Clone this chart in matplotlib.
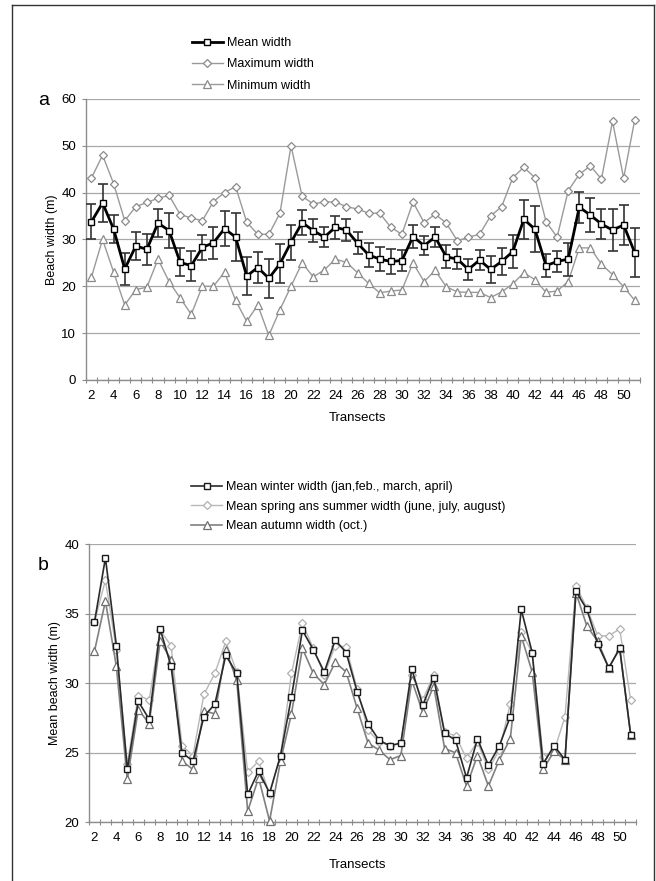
import numpy as np
import matplotlib
matplotlib.use('Agg')
import matplotlib.pyplot as plt
from matplotlib.lines import Line2D

plt.rcParams['font.family'] = ['Liberation Sans', 'DejaVu Sans']

# transect numbers 2..51
transects = list(range(2, 52))
tick_labels = list(range(2, 51, 2))

# panel a: beach width (m)
mean_w = [33.8, 37.8, 32.2, 23.7, 28.6, 27.9, 33.5, 31.9, 25.1, 24.4,
          28.3, 29.3, 32.3, 30.5, 22.2, 24.0, 21.7, 24.8, 29.4, 33.6,
          31.9, 30.5, 32.6, 32.0, 29.2, 26.7, 25.8, 25.3, 25.5, 30.6,
          28.7, 30.5, 26.3, 25.8, 23.6, 25.6, 23.6, 25.3, 27.4, 34.3,
          32.2, 24.4, 25.3, 25.8, 36.9, 35.2, 33.3, 32.0, 33.1, 27.2]
mean_err = [3.8, 4.1, 3.0, 3.4, 2.9, 3.3, 3.0, 3.8, 3.0, 3.2,
            2.6, 3.4, 3.7, 5.1, 4.0, 3.3, 4.2, 4.2, 3.7, 2.6,
            2.5, 2.1, 2.5, 2.4, 2.4, 2.5, 2.6, 2.6, 2.3, 2.4,
            2.1, 2.2, 2.5, 2.1, 2.3, 2.1, 2.8, 2.8, 3.6, 4.2,
            4.9, 2.5, 2.2, 3.5, 3.3, 3.7, 3.2, 4.4, 4.2, 5.3]
max_w = [43.1, 48.0, 41.9, 34.0, 37.0, 37.9, 38.8, 39.4, 35.3, 34.6,
         34.0, 38.1, 40.0, 41.3, 33.7, 31.1, 31.1, 35.6, 50.0, 39.2,
         37.6, 38.0, 38.0, 37.0, 36.5, 35.6, 35.6, 32.6, 31.1, 38.0,
         33.6, 35.4, 33.5, 29.7, 30.5, 31.1, 35.0, 37.0, 43.2, 45.4,
         43.2, 33.8, 30.5, 40.4, 43.9, 45.7, 42.9, 55.2, 43.1, 55.5]
min_w = [22.0, 30.0, 23.0, 16.0, 19.3, 19.8, 25.8, 21.0, 17.5, 14.0,
         20.0, 20.0, 23.0, 17.0, 12.5, 16.0, 9.5, 15.0, 20.0, 25.0,
         22.0, 23.5, 25.8, 25.1, 22.9, 20.6, 18.6, 19.0, 19.2, 25.0,
         21.0, 23.4, 19.9, 18.8, 18.7, 18.7, 17.6, 18.8, 20.5, 22.9,
         21.4, 18.7, 19.0, 21.0, 28.2, 28.2, 24.7, 22.5, 19.9, 17.0]

# panel b: seasonal mean beach width (m)
winter = [34.4, 39.0, 32.7, 23.8, 28.7, 27.4, 33.9, 31.2, 25.0, 24.4,
          27.6, 28.5, 32.0, 30.7, 22.0, 23.7, 22.1, 24.8, 29.0, 33.8,
          32.4, 30.8, 33.1, 32.2, 29.4, 27.1, 25.9, 25.5, 25.7, 31.0,
          28.4, 30.4, 26.4, 25.9, 23.2, 26.0, 24.1, 25.5, 27.6, 35.3,
          32.2, 24.2, 25.5, 24.5, 36.6, 35.3, 32.8, 31.1, 32.5, 26.3]
spring = [34.4, 37.4, 32.4, 24.2, 29.1, 28.8, 33.8, 32.7, 25.5, 24.8,
          29.2, 30.7, 33.0, 30.8, 23.6, 24.4, 22.0, 24.8, 30.7, 34.3,
          32.5, 30.6, 32.7, 32.6, 29.6, 26.6, 25.8, 25.5, 25.7, 30.6,
          28.8, 30.6, 26.5, 26.2, 24.6, 25.8, 23.8, 25.2, 28.5, 33.7,
          32.2, 24.7, 25.1, 27.6, 37.0, 35.4, 33.4, 33.4, 33.9, 28.8]
autumn = [32.3, 35.9, 31.2, 23.1, 28.1, 27.1, 33.0, 31.7, 24.4, 23.8,
          28.0, 27.8, 32.4, 30.2, 20.8, 23.2, 20.1, 24.4, 27.8, 32.5,
          30.7, 29.9, 31.5, 30.8, 28.2, 25.7, 25.2, 24.5, 24.8, 30.2,
          27.9, 29.8, 25.3, 25.0, 22.6, 24.8, 22.6, 24.5, 26.0, 33.4,
          30.8, 23.8, 25.1, 24.5, 36.5, 34.1, 33.0, 31.1, 32.5, 26.3]

GRID = '#a8a8a8'
SPINE = '#8c8c8c'


def style_axes(ax, ymin, ymax, ystep):
    ax.set_xlim(1.5, 51.5)
    ax.set_ylim(ymin, ymax)
    ax.set_yticks(np.arange(ymin, ymax + 0.1, ystep))
    ax.set_xticks(tick_labels)
    ax.set_xticks(np.arange(1.5, 52, 1), minor=True)
    ax.tick_params(axis='x', which='major', length=0, pad=7, labelsize=9.5)
    ax.tick_params(axis='x', which='minor', length=5, direction='inout',
                   color=SPINE, width=0.8)
    ax.tick_params(axis='y', length=3, color=SPINE, pad=4, labelsize=9.5)
    ax.yaxis.grid(True, color=GRID, lw=0.9)
    ax.set_axisbelow(True)
    for s in ['top', 'right']:
        ax.spines[s].set_visible(False)
    for s in ['left', 'bottom']:
        ax.spines[s].set_color(SPINE)
        ax.spines[s].set_linewidth(1.0)


fig = plt.figure(figsize=(6.56, 8.81), dpi=100)

# ---- panel a ----
ax1 = fig.add_axes([0.131, 0.5687, 0.845, 0.319])
style_axes(ax1, 0, 60, 10)
l_max, = ax1.plot(transects, max_w, color='#9a9a9a', lw=1.0, marker='D',
                  ms=4.2, mfc='white', mec='#8a8a8a', mew=0.9, zorder=3)
l_min, = ax1.plot(transects, min_w, color='#9a9a9a', lw=1.0, marker='^',
                  ms=5.5, mfc='white', mec='#8a8a8a', mew=0.9, zorder=3)
ax1.errorbar(transects, mean_w, yerr=mean_err, fmt='none', ecolor='#333333',
             elinewidth=1.2, capsize=3.8, capthick=1.2, zorder=4)
l_mean, = ax1.plot(transects, mean_w, color='black', lw=2.0, marker='s',
                   ms=5, mfc='white', mec='black', mew=1.0, zorder=5)
ax1.set_ylabel('Beach width (m)', fontsize=9)
ax1.yaxis.set_label_coords(-0.05, 0.5)
ax1.set_xlabel('Transects', fontsize=9.5)
ax1.xaxis.set_label_coords(0.49, -0.115)

fig.legend([l_mean, l_max, l_min], ['Mean width', 'Maximum width', 'Minimum width'],
           loc='upper left', bbox_to_anchor=(0.292, 0.958), frameon=False,
           fontsize=9, handlelength=2.5, handletextpad=0.3, labelspacing=0.75,
           borderpad=0, borderaxespad=0)
fig.text(0.058, 0.886, 'a', fontsize=14, va='center', ha='left')

# ---- panel b ----
ax2 = fig.add_axes([0.1357, 0.0666, 0.834, 0.3159])
style_axes(ax2, 20, 40, 5)
l_spr, = ax2.plot(transects, spring, color='#b8b8b8', lw=1.0, marker='D',
                  ms=4.2, mfc='white', mec='#b0b0b0', mew=0.9, zorder=3,
                  clip_on=False)
l_aut, = ax2.plot(transects, autumn, color='#808080', lw=1.2, marker='^',
                  ms=5.5, mfc='white', mec='#707070', mew=0.9, zorder=4,
                  clip_on=False)
l_win, = ax2.plot(transects, winter, color='#2a2a2a', lw=1.2, marker='s',
                  ms=4.8, mfc='white', mec='#1a1a1a', mew=1.0, zorder=5,
                  clip_on=False)
ax2.set_ylabel('Mean beach width (m)', fontsize=9)
ax2.yaxis.set_label_coords(-0.051, 0.5)
ax2.set_xlabel('Transects', fontsize=9.5)
ax2.xaxis.set_label_coords(0.49, -0.13)

fig.legend([l_win, l_spr, l_aut],
           ['Mean winter width (jan,feb., march, april)',
            'Mean spring ans summer width (june, july, august)',
            'Mean autumn width (oct.)'],
           loc='upper left', bbox_to_anchor=(0.291, 0.454), frameon=False,
           fontsize=9, handlelength=2.5, handletextpad=0.3, labelspacing=0.6,
           borderpad=0, borderaxespad=0)
fig.text(0.058, 0.358, 'b', fontsize=14, va='center', ha='left')

# page frame
fx0, fx1, fy1 = 12 / 656, 654 / 656, 1 - 5 / 881
for xs, ys in [([fx0, fx0], [0, fy1]), ([fx0, fx1], [fy1, fy1]), ([fx1, fx1], [0, fy1])]:
    fig.add_artist(Line2D(xs, ys, transform=fig.transFigure, color='#333333', lw=1.0))

fig.savefig('out.png', dpi=100)
